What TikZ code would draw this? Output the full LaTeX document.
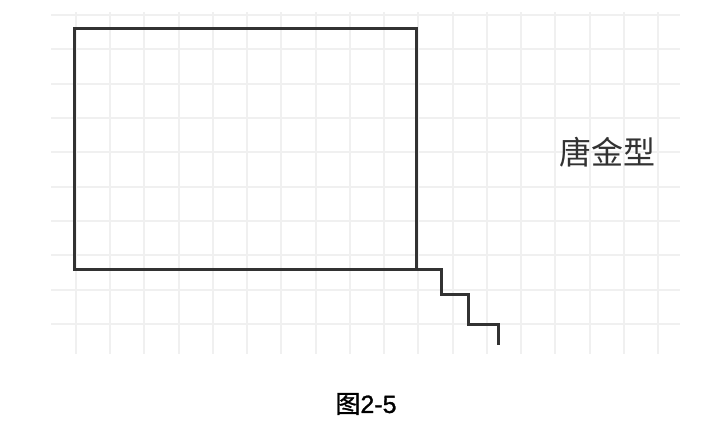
\documentclass[tikz,border=0pt]{standalone}
\usepackage{fontspec}
\newfontfamily\cjk{Noto Sans CJK SC}
\newfontfamily\capfont{Noto Sans CJK SC}[FakeBold=1.2]
\newfontfamily\numfont{Liberation Sans}[FakeBold=1.2]
\definecolor{gridgray}{RGB}{240,240,240}
\definecolor{inkgray}{RGB}{50,50,50}

\begin{document}
\begin{tikzpicture}[x=1pt,y=-1pt]
\useasboundingbox (0,0) rectangle (718,436);

% paper grid
\foreach \k in {0,...,17}
  \draw [gridgray,line width=2pt] (76+34.24*\k,12) -- (76+34.24*\k,354);
\foreach \k in {0,...,9}
  \draw [gridgray,line width=2pt] (51,15+34.33*\k) -- (680,15+34.33*\k);

\coordinate (A) at (74,29);
\coordinate (B) at (416,29);
\coordinate (C) at (416,269);
\coordinate (D) at (74,269);
\coordinate (E) at (441,269);
\coordinate (F) at (441,294);
\coordinate (G) at (468,294);
\coordinate (H) at (468,324);
\coordinate (I) at (498,324);
\coordinate (J) at (498,345);

\draw [inkgray,line width=3pt,line join=miter] (A) -- (B) -- (C) -- (D) -- cycle;
\draw [inkgray,line width=3pt,line join=miter] (C) -- (E) -- (F) -- (G) -- (H) -- (I) -- (J);

\node (label) at (607,152) {\cjk\fontsize{32}{32}\selectfont\color{inkgray}唐金型};
\node (caption) at (366,404) {\fontsize{25}{25}\selectfont{\capfont 图}\numfont 2-5};

\end{tikzpicture}
\end{document}
